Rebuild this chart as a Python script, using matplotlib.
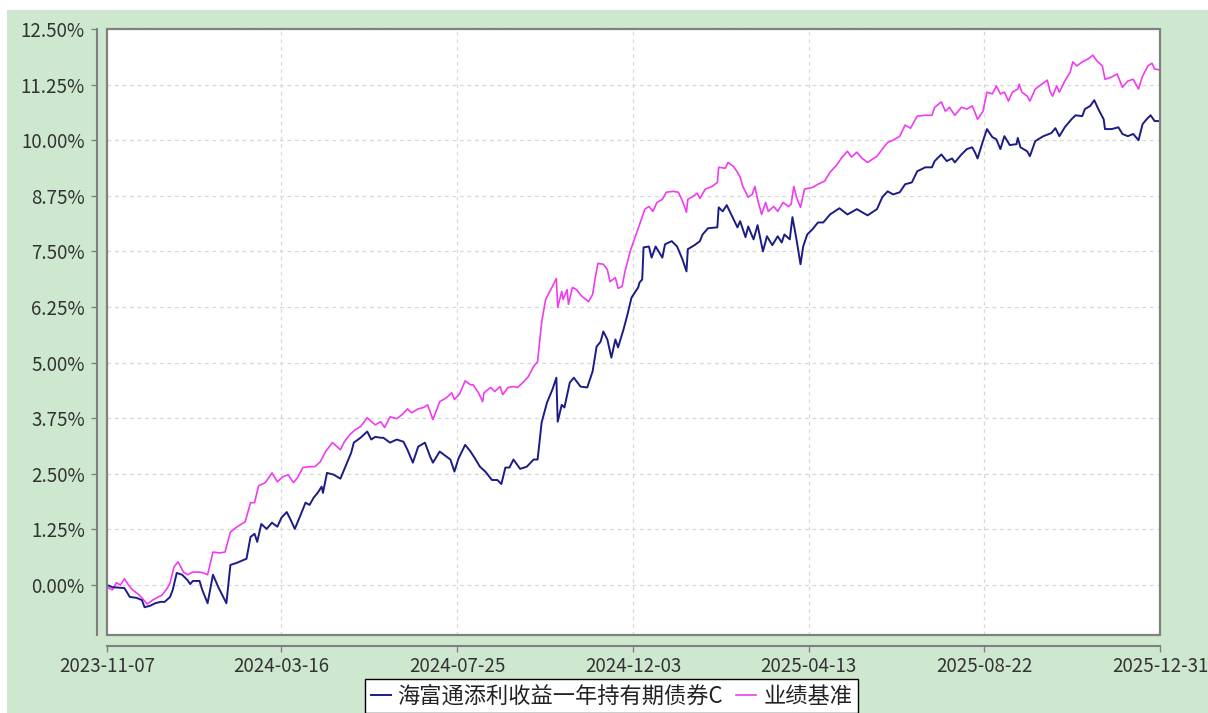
import matplotlib
matplotlib.use("Agg")
import matplotlib.pyplot as plt
from matplotlib.patches import Rectangle
from matplotlib.lines import Line2D
import pandas as pd

plt.rcParams['font.family'] = ['Noto Sans CJK SC', 'DejaVu Sans']

# data (days since 2023-11-07, cumulative return in %)
start_date = "2023-11-07"
end_date = "2025-12-31"
fund_name = "海富通添利收益一年持有期债券C"
bench_name = "业绩基准"

fund_days = [0, 4, 13, 17, 22, 26, 28, 32, 36, 40, 43, 47, 49, 52, 56, 60, 62, 64, 69, 71,
             75, 79, 83, 89, 92, 97, 104, 107, 110, 112, 115, 119, 123, 127, 130, 134, 137,
             140, 144, 148, 151, 154, 157, 160, 161, 164, 169, 174, 179, 182, 184, 189, 194,
             197, 200, 204, 206, 211, 216, 221, 224, 228, 232, 237, 241, 243, 248, 252, 256,
             259, 262, 267, 271, 274, 278, 282, 287, 291, 294, 297, 300, 303, 308, 313, 318,
             321, 324, 328, 332, 335, 336, 339, 341, 345, 348, 353, 358, 362, 365, 368, 370,
             373, 376, 379, 381, 385, 388, 391, 396, 397, 399, 400, 404, 406, 409, 414, 416,
             421, 425, 429, 432, 433, 438, 442, 444, 448, 455, 456, 459, 462, 466, 470, 472,
             476, 478, 482, 485, 489, 492, 496, 500, 503, 505, 509, 511, 514, 517, 519, 522,
             526, 530, 534, 539, 546, 552, 559, 567, 574, 578, 582, 586, 591, 595, 600, 604,
             610, 615, 617, 622, 626, 630, 632, 637, 641, 645, 647, 649, 653, 656, 660, 663,
             666, 669, 673, 678, 679, 681, 686, 688, 692, 698, 704, 707, 710, 714, 719, 722,
             727, 729, 733, 736, 739, 743, 744, 749, 754, 757, 761, 765, 769, 772, 775, 778,
             781, 785]
fund_vals = [0.00, -0.05, -0.07, -0.27, -0.29, -0.34, -0.50, -0.47, -0.41, -0.38, -0.38, -0.27,
             -0.11, 0.27, 0.23, 0.11, 0.02, 0.09, 0.09, -0.11, -0.41, 0.23, -0.05, -0.41, 0.45,
             0.50, 0.59, 1.08, 1.15, 0.97, 1.37, 1.26, 1.40, 1.31, 1.51, 1.64, 1.46, 1.26, 1.55,
             1.85, 1.80, 1.96, 2.07, 2.21, 2.07, 2.52, 2.48, 2.39, 2.75, 2.97, 3.20, 3.31, 3.45,
             3.27, 3.33, 3.31, 3.31, 3.20, 3.27, 3.22, 3.04, 2.75, 3.11, 3.20, 2.88, 2.75, 3.00,
             2.91, 2.82, 2.55, 2.84, 3.15, 3.00, 2.86, 2.66, 2.55, 2.36, 2.36, 2.27, 2.64, 2.64,
             2.82, 2.61, 2.66, 2.82, 2.82, 3.65, 4.10, 4.39, 4.66, 3.67, 4.05, 3.99, 4.55, 4.66,
             4.46, 4.44, 4.80, 5.36, 5.47, 5.70, 5.52, 5.11, 5.52, 5.34, 5.74, 6.08, 6.46, 6.69,
             6.80, 6.87, 7.59, 7.61, 7.36, 7.61, 7.36, 7.66, 7.73, 7.61, 7.32, 7.05, 7.55, 7.64,
             7.73, 7.88, 8.02, 8.04, 8.49, 8.40, 8.54, 8.29, 8.04, 8.18, 7.82, 8.06, 7.77, 8.09,
             7.50, 7.84, 7.64, 7.84, 7.70, 7.88, 7.77, 8.27, 7.77, 7.21, 7.61, 7.88, 8.00, 8.15,
             8.15, 8.33, 8.47, 8.33, 8.45, 8.31, 8.45, 8.72, 8.85, 8.78, 8.83, 9.01, 9.05, 9.30,
             9.39, 9.39, 9.53, 9.68, 9.53, 9.59, 9.50, 9.68, 9.80, 9.84, 9.73, 9.59, 9.98, 10.25,
             10.07, 10.02, 9.80, 10.09, 9.89, 9.91, 10.05, 9.84, 9.75, 9.64, 9.98, 10.09, 10.16,
             10.27, 10.09, 10.29, 10.47, 10.56, 10.54, 10.70, 10.77, 10.90, 10.70, 10.47, 10.25,
             10.25, 10.29, 10.14, 10.09, 10.14, 10.00, 10.36, 10.47, 10.56, 10.43, 10.43]

bench_days = [0, 4, 7, 10, 13, 16, 19, 23, 26, 30, 34, 37, 41, 45, 47, 50, 53, 57, 60, 64, 69,
              72, 75, 79, 84, 88, 92, 97, 103, 107, 110, 113, 118, 123, 127, 131, 135, 139, 142,
              146, 151, 155, 159, 163, 168, 170, 174, 177, 181, 185, 189, 194, 198, 200, 204,
              207, 211, 216, 220, 224, 227, 232, 236, 239, 243, 248, 253, 257, 259, 263, 267,
              271, 273, 277, 280, 281, 286, 289, 293, 295, 299, 303, 306, 310, 314, 318, 321,
              324, 327, 332, 335, 336, 339, 340, 343, 344, 347, 350, 354, 359, 362, 364, 366,
              370, 373, 375, 379, 381, 384, 386, 390, 395, 399, 401, 404, 407, 410, 414, 417,
              422, 426, 429, 432, 433, 437, 440, 442, 446, 451, 455, 456, 461, 463, 467, 470,
              472, 474, 478, 481, 483, 485, 488, 491, 493, 497, 500, 504, 508, 510, 512, 514,
              517, 520, 526, 530, 535, 539, 544, 548, 552, 555, 559, 563, 567, 574, 579, 582,
              586, 591, 595, 599, 604, 610, 615, 617, 622, 625, 628, 632, 637, 641, 645, 647,
              649, 653, 656, 660, 663, 666, 669, 672, 675, 679, 680, 682, 686, 688, 692, 697,
              701, 703, 705, 708, 710, 714, 718, 720, 723, 727, 731, 735, 738, 742, 744, 749,
              753, 757, 761, 765, 769, 772, 776, 779, 781, 785]
bench_vals = [-0.05, -0.11, 0.05, 0.00, 0.14, 0.00, -0.11, -0.20, -0.29, -0.43, -0.34, -0.29,
              -0.23, -0.07, 0.05, 0.41, 0.52, 0.29, 0.23, 0.29, 0.29, 0.27, 0.23, 0.74, 0.72,
              0.74, 1.19, 1.31, 1.42, 1.85, 1.85, 2.23, 2.30, 2.52, 2.32, 2.43, 2.48, 2.30, 2.41,
              2.64, 2.66, 2.66, 2.77, 3.00, 3.20, 3.15, 3.04, 3.22, 3.38, 3.49, 3.56, 3.76, 3.65,
              3.60, 3.67, 3.54, 3.78, 3.74, 3.83, 3.96, 3.87, 3.96, 3.99, 4.05, 3.72, 4.12, 4.21,
              4.32, 4.17, 4.30, 4.59, 4.50, 4.50, 4.32, 4.12, 4.32, 4.44, 4.35, 4.46, 4.28, 4.44,
              4.46, 4.44, 4.55, 4.68, 4.91, 5.02, 5.90, 6.42, 6.71, 6.89, 6.24, 6.60, 6.42, 6.64,
              6.31, 6.69, 6.64, 6.49, 6.37, 6.53, 6.91, 7.23, 7.21, 7.09, 6.82, 6.91, 6.67, 6.71,
              7.03, 7.50, 7.93, 8.27, 8.45, 8.51, 8.40, 8.60, 8.67, 8.83, 8.85, 8.83, 8.63, 8.38,
              8.67, 8.74, 8.81, 8.69, 8.90, 8.96, 9.05, 9.39, 9.37, 9.50, 9.41, 9.28, 9.17, 8.96,
              8.72, 8.78, 8.96, 8.67, 8.33, 8.60, 8.40, 8.51, 8.40, 8.60, 8.51, 8.56, 8.96, 8.72,
              8.49, 8.90, 8.94, 9.01, 9.08, 9.28, 9.44, 9.62, 9.75, 9.62, 9.73, 9.59, 9.50, 9.64,
              9.84, 9.95, 10.00, 10.09, 10.34, 10.27, 10.54, 10.56, 10.56, 10.74, 10.86, 10.65,
              10.74, 10.56, 10.74, 10.70, 10.77, 10.63, 10.47, 10.65, 11.08, 11.04, 11.22, 11.04,
              11.08, 10.88, 11.08, 11.15, 11.26, 11.08, 10.99, 10.88, 11.15, 11.26, 11.35, 11.10,
              10.99, 11.22, 11.08, 11.33, 11.53, 11.76, 11.67, 11.76, 11.82, 11.91, 11.78, 11.67,
              11.37, 11.42, 11.49, 11.19, 11.33, 11.37, 11.15, 11.44, 11.67, 11.73, 11.60, 11.58]

x_tick_labels = ["2023-11-07", "2024-03-16", "2024-07-25", "2024-12-03",
                 "2025-04-13", "2025-08-22", "2025-12-31"]
y_ticks = [0.00, 1.25, 2.50, 3.75, 5.00, 6.25, 7.50, 8.75, 10.00, 11.25, 12.50]

t0 = pd.Timestamp(start_date)
fund_dates = t0 + pd.to_timedelta(fund_days, unit="D")
bench_dates = t0 + pd.to_timedelta(bench_days, unit="D")

W, H = 1208, 713
fig = plt.figure(figsize=(W / 100, H / 100), dpi=100, facecolor="white")
fig.patches.append(Rectangle((7 / W, 0), 1, (H - 10) / H, transform=fig.transFigure,
                             facecolor="#cde8cf", edgecolor="none", zorder=-10))

ax = fig.add_axes([107 / W, 1 - 635 / H, (1160 - 107) / W, (635 - 29) / H])
ax.set_facecolor("white")

navy = "#1c1c86"
pink = "#f03cf0"
ax.plot(bench_dates, bench_vals, color=pink, lw=1.2, zorder=3)
ax.plot(fund_dates, fund_vals, color=navy, lw=1.4, zorder=4)

ax.set_xlim(pd.Timestamp(start_date), pd.Timestamp(end_date))
ax.set_ylim(-1.125, 12.5)

ax.set_xticks(pd.to_datetime(x_tick_labels))
ax.set_xticklabels(x_tick_labels, family="DejaVu Sans")
ax.set_yticks(y_ticks)
ax.set_yticklabels([f"{v:.2f}%" for v in y_ticks], family="DejaVu Sans")

ax.grid(True, color="#d8d8d8", linestyle=(0, (3, 3)), linewidth=0.9)
ax.set_axisbelow(True)

# frame around plot area, axis lines set apart from it
for s in ["top", "right"]:
    ax.spines[s].set_visible(False)
ax.add_patch(Rectangle((0, 0), 1, 1, transform=ax.transAxes, fill=False,
                       edgecolor="#808080", lw=1.6, zorder=5, clip_on=False))
ax.spines["left"].set_position(("outward", 7))
ax.spines["bottom"].set_position(("outward", 8))
for s in ["left", "bottom"]:
    ax.spines[s].set_color("#808080")
    ax.spines[s].set_linewidth(1.5)
ax.spines["left"].set_bounds(-1.125, 12.5)

ax.tick_params(axis="both", colors="#808080", length=4, width=1, labelcolor="#333333",
               labelsize=13.5)
ax.tick_params(axis="y", pad=5)
ax.tick_params(axis="x", pad=3)

handles = [Line2D([], [], color=navy, lw=1.4), Line2D([], [], color=pink, lw=1.2)]
leg = fig.legend(handles, [fund_name, bench_name], loc="upper center",
                 bbox_to_anchor=(611.5 / W, 1 - 679 / H), ncol=2, fontsize=16,
                 frameon=True, fancybox=False, framealpha=1, facecolor="white",
                 handlelength=0.9, handletextpad=0.3,
                 columnspacing=0.6, borderpad=0.25, borderaxespad=0)
leg.get_frame().set_edgecolor("black")
leg.get_frame().set_linewidth(1.0)
for txt in leg.get_texts():
    txt.set_color("#222222")

fig.savefig("out.png", dpi=100)
